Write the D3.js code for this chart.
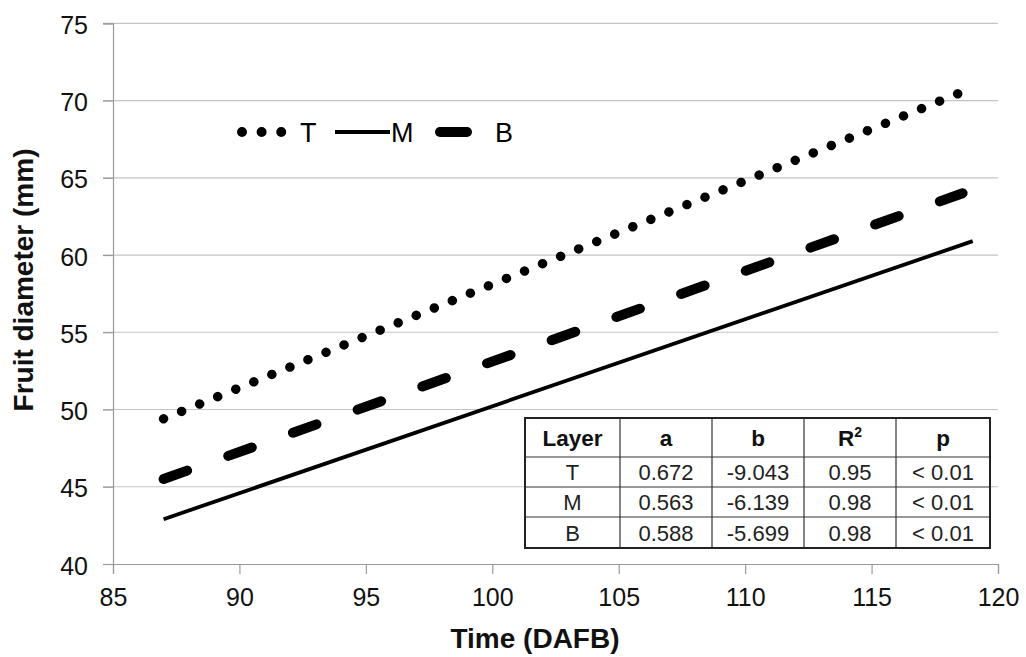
<!DOCTYPE html>
<html>
<head>
<meta charset="utf-8">
<script src="https://cdn.jsdelivr.net/npm/d3@7"></script>
<style>
  html, body { margin: 0; padding: 0; background: #fff; }
  svg { display: block; font-family: "Liberation Sans", Arial, sans-serif; }
</style>
</head>
<body>
<svg id="chart" width="1026" height="657"></svg>
<script>
// ---- data ----
const layers = ["T", "M", "B"];
const xStart = [87, 87, 87];
const yStart = [49.4, 42.9, 45.5];
const xEnd = [118.5, 119.0, 118.6];
const yEnd = [70.5, 60.9, 64.0];

const xTicks = [85, 90, 95, 100, 105, 110, 115, 120];
const yTicks = [40, 45, 50, 55, 60, 65, 70, 75];

const tableHeader = ["Layer", "a", "b", "R2", "p"];
const tableLayer = ["T", "M", "B"];
const tableA = ["0.672", "0.563", "0.588"];
const tableB = ["-9.043", "-6.139", "-5.699"];
const tableR2 = ["0.95", "0.98", "0.98"];
const tableP = ["< 0.01", "< 0.01", "< 0.01"];

// ---- layout ----
const svg = d3.select("#chart");
const pL = 113, pR = 998, pT = 23.3, pB = 564;
const x = d3.scaleLinear().domain([85, 120]).range([pL, pR]);
const y = d3.scaleLinear().domain([40, 75]).range([pB, pT]);

// gridlines
svg.append("g").selectAll("line").data(yTicks.filter(d => d > 40)).join("line")
  .attr("x1", pL - 10).attr("x2", pR)
  .attr("y1", d => y(d)).attr("y2", d => y(d))
  .attr("stroke", "#c4c4c4").attr("stroke-width", 1.2);

// y axis
const yAxis = svg.append("g").attr("transform", `translate(${pL},0)`)
  .call(d3.axisLeft(y).tickValues(yTicks).tickSize(10).tickPadding(15).tickFormat(d3.format("d")));
yAxis.select(".domain").attr("stroke", "#9a9a9a").attr("stroke-width", 1.2);
yAxis.selectAll(".tick line").attr("stroke", "#9a9a9a").attr("stroke-width", 1.2);
yAxis.selectAll(".tick text").attr("font-size", 25).attr("fill", "#111")
  .attr("font-family", "Liberation Sans, Arial, sans-serif").attr("dy", "0.4em");

// x axis
const xAxis = svg.append("g").attr("transform", `translate(0,${pB})`)
  .call(d3.axisBottom(x).tickValues(xTicks).tickSize(10).tickPadding(14).tickFormat(d3.format("d")));
xAxis.select(".domain").attr("stroke", "#9a9a9a").attr("stroke-width", 1.2);
xAxis.selectAll(".tick line").attr("stroke", "#9a9a9a").attr("stroke-width", 1.2);
xAxis.selectAll(".tick text").attr("font-size", 25).attr("fill", "#111")
  .attr("font-family", "Liberation Sans, Arial, sans-serif");

// axis titles
svg.append("text").attr("x", 535).attr("y", 648).attr("text-anchor", "middle")
  .attr("font-size", 28).attr("font-weight", "bold").attr("fill", "#111").text("Time (DAFB)");
svg.append("text").attr("transform", "translate(33,280) rotate(-90)").attr("text-anchor", "middle")
  .attr("font-size", 28).attr("font-weight", "bold").attr("fill", "#111").text("Fruit diameter (mm)");

// line styles
const styles = {
  T: { width: 9.5, dash: "0.01 19.49", cap: "round" },
  M: { width: 3.8, dash: null, cap: "butt" },
  B: { width: 10, dash: "25 43.7", cap: "round" }
};

const line = d3.line().x(d => x(d[0])).y(d => y(d[1]));
layers.forEach((name, i) => {
  const pts = [[xStart[i], yStart[i]], [xEnd[i], yEnd[i]]];
  const s = styles[name];
  svg.append("path").datum(pts).attr("d", line)
    .attr("fill", "none").attr("stroke", "#000")
    .attr("stroke-width", s.width).attr("stroke-linecap", s.cap)
    .attr("stroke-dasharray", s.dash);
});

// legend
const ly = 132;
const lg = svg.append("g");
lg.append("path").attr("d", `M242,${ly}L282,${ly}`).attr("stroke", "#000").attr("stroke-width", 10)
  .attr("stroke-linecap", "round").attr("stroke-dasharray", "0.01 19.6");
lg.append("text").attr("x", 300).attr("y", ly + 10).attr("font-size", 27).attr("fill", "#000").text("T");
lg.append("path").attr("d", `M335,${ly}L390,${ly}`).attr("stroke", "#000").attr("stroke-width", 3.8);
lg.append("text").attr("x", 391).attr("y", ly + 10).attr("font-size", 27).attr("fill", "#000").text("M");
lg.append("path").attr("d", `M440,${ly}L467,${ly}`).attr("stroke", "#000").attr("stroke-width", 10)
  .attr("stroke-linecap", "round");
lg.append("text").attr("x", 495).attr("y", ly + 10).attr("font-size", 27).attr("fill", "#000").text("B");

// table
const colX = [525, 620, 712, 804, 896, 990];
const rowY = [418, 457, 487, 517, 548];
const tg = svg.append("g");
tg.append("rect").attr("x", colX[0]).attr("y", rowY[0])
  .attr("width", colX[5] - colX[0]).attr("height", rowY[4] - rowY[0]).attr("fill", "#fff");
colX.slice(1, 5).forEach(cx => tg.append("line").attr("x1", cx).attr("x2", cx)
  .attr("y1", rowY[0]).attr("y2", rowY[4]).attr("stroke", "#333").attr("stroke-width", 1.2));
rowY.slice(1, 4).forEach(ry => tg.append("line").attr("x1", colX[0]).attr("x2", colX[5])
  .attr("y1", ry).attr("y2", ry).attr("stroke", "#333").attr("stroke-width", 1.2));
tg.append("rect").attr("x", colX[0]).attr("y", rowY[0])
  .attr("width", colX[5] - colX[0]).attr("height", rowY[4] - rowY[0])
  .attr("fill", "none").attr("stroke", "#222").attr("stroke-width", 2);

const cx = i => (colX[i] + colX[i + 1]) / 2;
// header
tableHeader.forEach((h, i) => {
  const t = tg.append("text").attr("x", cx(i)).attr("y", (rowY[0] + rowY[1]) / 2 + 8)
    .attr("text-anchor", "middle").attr("font-size", 22.5).attr("font-weight", "bold").attr("fill", "#111");
  if (h === "R2") {
    t.append("tspan").text("R");
    t.append("tspan").attr("font-size", 14).attr("dy", -9).text("2");
  } else t.text(h);
});
const cols = [tableLayer, tableA, tableB, tableR2, tableP];
tableLayer.forEach((_, r) => {
  cols.forEach((col, c) => {
    tg.append("text").attr("x", cx(c)).attr("y", (rowY[r + 1] + rowY[r + 2]) / 2 + 8)
      .attr("text-anchor", "middle").attr("font-size", 22).attr("fill", "#222").text(col[r]);
  });
});
</script>
</body>
</html>
